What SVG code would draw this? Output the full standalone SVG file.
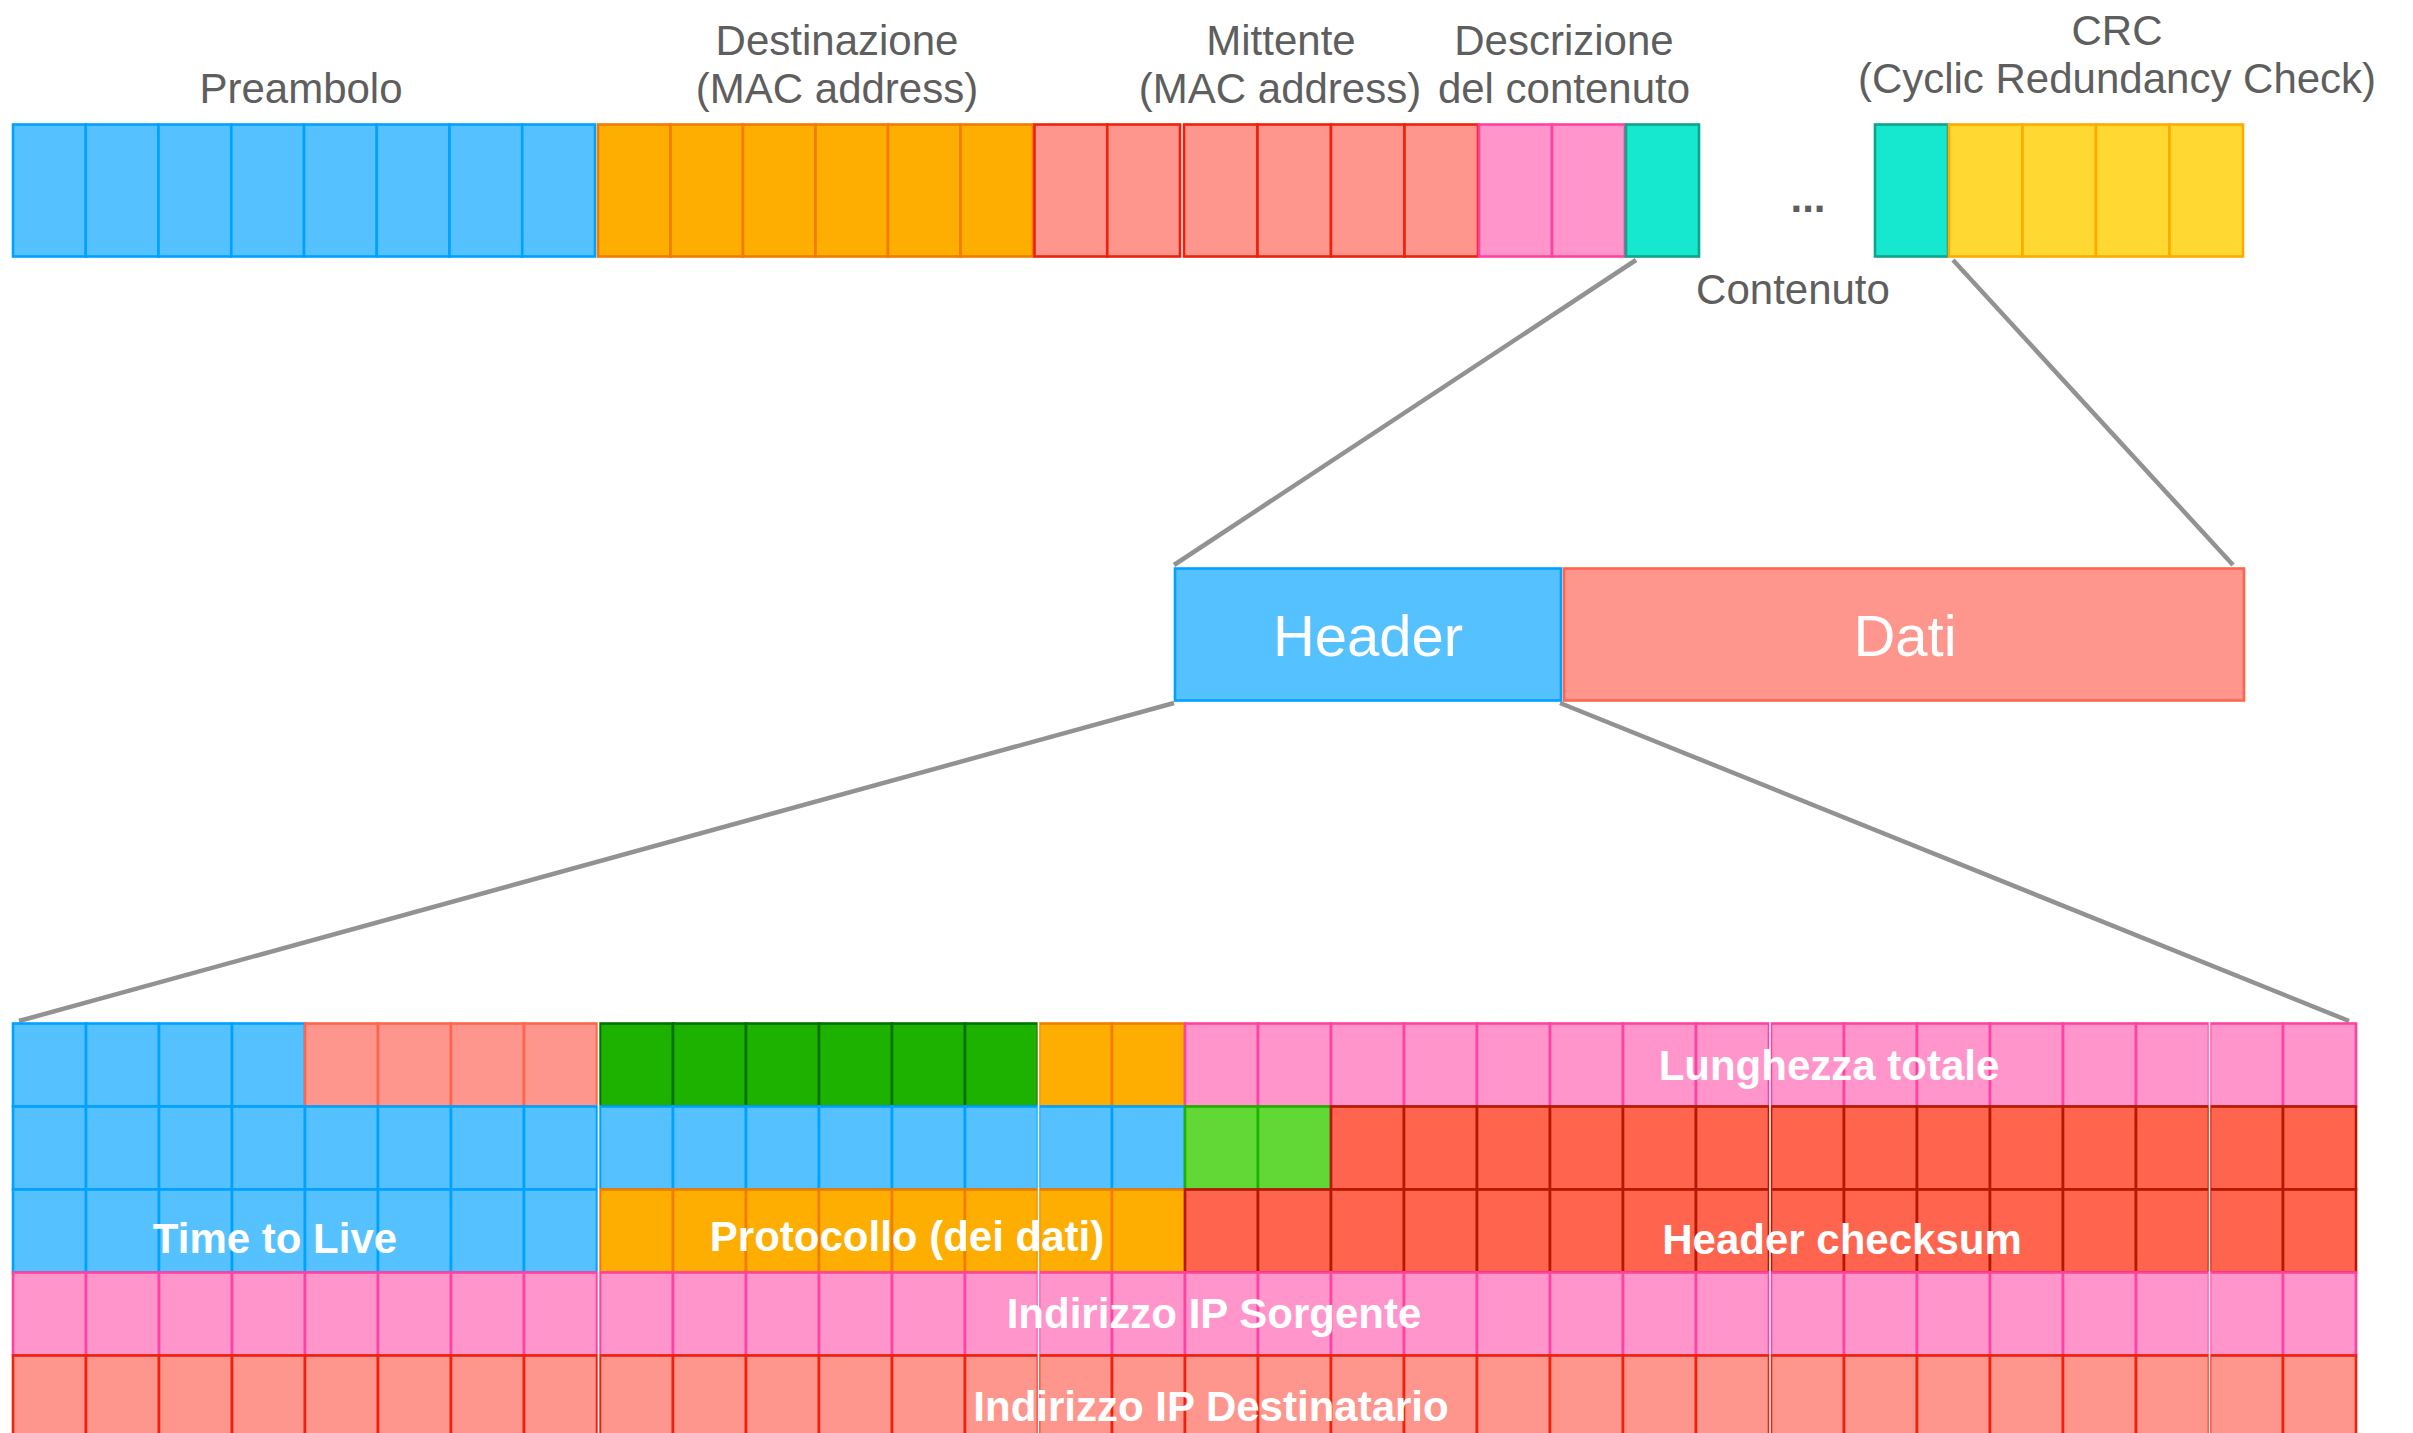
<svg xmlns="http://www.w3.org/2000/svg" width="2413" height="1433" viewBox="0 0 2413 1433">
<style>
rect{stroke-width:2.6}
.blue{fill:#56C1FF;stroke:#00A2FF}
.orange{fill:#FEAE00;stroke:#F27B00}
.salmon{fill:#FF968D;stroke:#EE220C}
.salmonL{fill:#FF968D;stroke:#FF644E}
.pink{fill:#FF95CA;stroke:#FF42A1}
.teal{fill:#16E7CF;stroke:#0FA38A}
.yellow{fill:#FFD932;stroke:#FFAA00}
.dgreen{fill:#1DB100;stroke:#017100}
.lgreen{fill:#61D836;stroke:#1DB100}
.red{fill:#FF644E;stroke:#B51700}
.lbl{font-family:"Liberation Sans",Arial,sans-serif;font-size:42px;fill:#5E5E5E;text-anchor:middle}
.big{font-family:"Liberation Sans",Arial,sans-serif;font-size:58px;fill:#fff;text-anchor:middle}
.fld{font-family:"Liberation Sans",Arial,sans-serif;font-size:42px;font-weight:bold;fill:#fff;text-anchor:middle}
.conn line{stroke:#929292;stroke-width:4.5}
.sep line{stroke:#fff;stroke-width:1.6}
</style>
<rect x="0" y="0" width="2413" height="1433" fill="#fff" style="stroke:none"/>

<!-- Top frame -->
<g id="preambolo">
<g class="blue">
<rect x="13" y="124.5" width="72.75" height="132"/><rect x="85.75" y="124.5" width="72.75" height="132"/><rect x="158.5" y="124.5" width="72.75" height="132"/><rect x="231.25" y="124.5" width="72.75" height="132"/><rect x="304" y="124.5" width="72.75" height="132"/><rect x="376.75" y="124.5" width="72.75" height="132"/><rect x="449.5" y="124.5" width="72.75" height="132"/><rect x="522.25" y="124.5" width="72.75" height="132"/>
</g>
<text class="lbl" x="301" y="103">Preambolo</text>
</g>
<g id="destinazione">
<g class="orange">
<rect x="598" y="124.5" width="72.5" height="132"/><rect x="670.5" y="124.5" width="72.5" height="132"/><rect x="743" y="124.5" width="72.5" height="132"/><rect x="815.5" y="124.5" width="72.5" height="132"/><rect x="888" y="124.5" width="72.5" height="132"/><rect x="960.5" y="124.5" width="72.5" height="132"/>
</g>
<text class="lbl" x="837" y="55">Destinazione</text>
<text class="lbl" x="837" y="103">(MAC address)</text>
</g>
<g id="mittente">
<g class="salmon">
<rect x="1034.5" y="124.5" width="72.75" height="132"/><rect x="1107.25" y="124.5" width="72.75" height="132"/>
<rect x="1184" y="124.5" width="73.5" height="132"/><rect x="1257.5" y="124.5" width="73.5" height="132"/><rect x="1331" y="124.5" width="73.5" height="132"/><rect x="1404.5" y="124.5" width="73.5" height="132"/>
</g>
<text class="lbl" x="1281" y="55">Mittente</text>
<text class="lbl" x="1280" y="103">(MAC address)</text>
</g>
<g id="descrizione">
<g class="pink">
<rect x="1479" y="124.5" width="73" height="132"/><rect x="1552" y="124.5" width="73" height="132"/>
</g>
<text class="lbl" x="1564" y="55">Descrizione</text>
<text class="lbl" x="1564" y="103">del contenuto</text>
</g>
<g id="contenuto">
<rect class="teal" x="1626" y="124.5" width="73" height="132"/>
<text class="lbl" x="1808" y="212" font-weight="bold" font-size="44">...</text>
<rect class="teal" x="1875" y="124.5" width="73" height="132"/>
<text class="lbl" x="1793" y="304">Contenuto</text>
</g>
<g id="crc">
<g class="yellow">
<rect x="1949" y="124.5" width="73.5" height="132"/><rect x="2022.5" y="124.5" width="73.5" height="132"/><rect x="2096" y="124.5" width="73.5" height="132"/><rect x="2169.5" y="124.5" width="73.5" height="132"/>
</g>
<text class="lbl" x="2117" y="45">CRC</text>
<text class="lbl" x="2117" y="93">(Cyclic Redundancy Check)</text>
</g>

<!-- Connectors -->
<g id="connectors" class="conn">
<line x1="1636" y1="260" x2="1174" y2="565"/>
<line x1="1953" y1="260" x2="2233" y2="565"/>
<line x1="1174" y1="703" x2="19" y2="1021"/>
<line x1="1560" y1="703" x2="2349" y2="1021"/>
</g>

<!-- Middle -->
<g id="header">
<rect class="blue" x="1175" y="568.5" width="386" height="132"/>
<text class="big" x="1368" y="656">Header</text>
</g>
<g id="dati">
<rect class="salmonL" x="1564" y="568.5" width="680" height="132"/>
<text class="big" x="1905" y="656">Dati</text>
</g>

<!-- Bottom grid: row 1 -->
<g id="versione" class="blue">
<rect x="13" y="1023.5" width="73" height="83"/><rect x="86" y="1023.5" width="73" height="83"/><rect x="159" y="1023.5" width="73" height="83"/><rect x="232" y="1023.5" width="73" height="83"/>
</g>
<g id="ihl" class="salmonL">
<rect x="305" y="1023.5" width="73" height="83"/><rect x="378" y="1023.5" width="73" height="83"/><rect x="451" y="1023.5" width="73" height="83"/><rect x="524" y="1023.5" width="73" height="83"/>
</g>
<g id="dscp" class="dgreen">
<rect x="600" y="1023.5" width="73" height="83"/><rect x="673" y="1023.5" width="73" height="83"/><rect x="746" y="1023.5" width="73" height="83"/><rect x="819" y="1023.5" width="73" height="83"/><rect x="892" y="1023.5" width="73" height="83"/><rect x="965" y="1023.5" width="73" height="83"/>
</g>
<g id="ecn" class="orange">
<rect x="1039" y="1023.5" width="73" height="83"/><rect x="1112" y="1023.5" width="73" height="83"/>
</g>
<g id="lunghezza-totale-cells" class="pink">
<rect x="1185" y="1023.5" width="73" height="83"/><rect x="1258" y="1023.5" width="73" height="83"/><rect x="1331" y="1023.5" width="73" height="83"/><rect x="1404" y="1023.5" width="73" height="83"/><rect x="1477" y="1023.5" width="73" height="83"/><rect x="1550" y="1023.5" width="73" height="83"/><rect x="1623" y="1023.5" width="73" height="83"/><rect x="1696" y="1023.5" width="73" height="83"/>
<rect x="1771" y="1023.5" width="73" height="83"/><rect x="1844" y="1023.5" width="73" height="83"/><rect x="1917" y="1023.5" width="73" height="83"/><rect x="1990" y="1023.5" width="73" height="83"/><rect x="2063" y="1023.5" width="73" height="83"/><rect x="2136" y="1023.5" width="73" height="83"/>
<rect x="2210" y="1023.5" width="73" height="83"/><rect x="2283" y="1023.5" width="73" height="83"/>
</g>

<!-- row 2 -->
<g id="identificazione" class="blue">
<rect x="13" y="1106.5" width="73" height="83"/><rect x="86" y="1106.5" width="73" height="83"/><rect x="159" y="1106.5" width="73" height="83"/><rect x="232" y="1106.5" width="73" height="83"/><rect x="305" y="1106.5" width="73" height="83"/><rect x="378" y="1106.5" width="73" height="83"/><rect x="451" y="1106.5" width="73" height="83"/><rect x="524" y="1106.5" width="73" height="83"/>
<rect x="600" y="1106.5" width="73" height="83"/><rect x="673" y="1106.5" width="73" height="83"/><rect x="746" y="1106.5" width="73" height="83"/><rect x="819" y="1106.5" width="73" height="83"/><rect x="892" y="1106.5" width="73" height="83"/><rect x="965" y="1106.5" width="73" height="83"/>
<rect x="1039" y="1106.5" width="73" height="83"/><rect x="1112" y="1106.5" width="73" height="83"/>
</g>
<g id="flag" class="lgreen">
<rect x="1185" y="1106.5" width="73" height="83"/><rect x="1258" y="1106.5" width="73" height="83"/>
</g>
<g id="offset" class="red">
<rect x="1331" y="1106.5" width="73" height="83"/><rect x="1404" y="1106.5" width="73" height="83"/><rect x="1477" y="1106.5" width="73" height="83"/><rect x="1550" y="1106.5" width="73" height="83"/><rect x="1623" y="1106.5" width="73" height="83"/><rect x="1696" y="1106.5" width="73" height="83"/>
<rect x="1771" y="1106.5" width="73" height="83"/><rect x="1844" y="1106.5" width="73" height="83"/><rect x="1917" y="1106.5" width="73" height="83"/><rect x="1990" y="1106.5" width="73" height="83"/><rect x="2063" y="1106.5" width="73" height="83"/><rect x="2136" y="1106.5" width="73" height="83"/>
<rect x="2210" y="1106.5" width="73" height="83"/><rect x="2283" y="1106.5" width="73" height="83"/>
</g>

<!-- row 3 -->
<g id="time-to-live-cells" class="blue">
<rect x="13" y="1189.5" width="73" height="83"/><rect x="86" y="1189.5" width="73" height="83"/><rect x="159" y="1189.5" width="73" height="83"/><rect x="232" y="1189.5" width="73" height="83"/><rect x="305" y="1189.5" width="73" height="83"/><rect x="378" y="1189.5" width="73" height="83"/><rect x="451" y="1189.5" width="73" height="83"/><rect x="524" y="1189.5" width="73" height="83"/>
</g>
<g id="protocollo-cells" class="orange">
<rect x="600" y="1189.5" width="73" height="83"/><rect x="673" y="1189.5" width="73" height="83"/><rect x="746" y="1189.5" width="73" height="83"/><rect x="819" y="1189.5" width="73" height="83"/><rect x="892" y="1189.5" width="73" height="83"/><rect x="965" y="1189.5" width="73" height="83"/>
<rect x="1039" y="1189.5" width="73" height="83"/><rect x="1112" y="1189.5" width="73" height="83"/>
</g>
<g id="header-checksum-cells" class="red">
<rect x="1185" y="1189.5" width="73" height="83"/><rect x="1258" y="1189.5" width="73" height="83"/><rect x="1331" y="1189.5" width="73" height="83"/><rect x="1404" y="1189.5" width="73" height="83"/><rect x="1477" y="1189.5" width="73" height="83"/><rect x="1550" y="1189.5" width="73" height="83"/><rect x="1623" y="1189.5" width="73" height="83"/><rect x="1696" y="1189.5" width="73" height="83"/>
<rect x="1771" y="1189.5" width="73" height="83"/><rect x="1844" y="1189.5" width="73" height="83"/><rect x="1917" y="1189.5" width="73" height="83"/><rect x="1990" y="1189.5" width="73" height="83"/><rect x="2063" y="1189.5" width="73" height="83"/><rect x="2136" y="1189.5" width="73" height="83"/>
<rect x="2210" y="1189.5" width="73" height="83"/><rect x="2283" y="1189.5" width="73" height="83"/>
</g>

<!-- row 4 -->
<g id="ip-sorgente-cells" class="pink">
<rect x="13" y="1272.5" width="73" height="83"/><rect x="86" y="1272.5" width="73" height="83"/><rect x="159" y="1272.5" width="73" height="83"/><rect x="232" y="1272.5" width="73" height="83"/><rect x="305" y="1272.5" width="73" height="83"/><rect x="378" y="1272.5" width="73" height="83"/><rect x="451" y="1272.5" width="73" height="83"/><rect x="524" y="1272.5" width="73" height="83"/>
<rect x="600" y="1272.5" width="73" height="83"/><rect x="673" y="1272.5" width="73" height="83"/><rect x="746" y="1272.5" width="73" height="83"/><rect x="819" y="1272.5" width="73" height="83"/><rect x="892" y="1272.5" width="73" height="83"/><rect x="965" y="1272.5" width="73" height="83"/>
<rect x="1039" y="1272.5" width="73" height="83"/><rect x="1112" y="1272.5" width="73" height="83"/><rect x="1185" y="1272.5" width="73" height="83"/><rect x="1258" y="1272.5" width="73" height="83"/><rect x="1331" y="1272.5" width="73" height="83"/><rect x="1404" y="1272.5" width="73" height="83"/><rect x="1477" y="1272.5" width="73" height="83"/><rect x="1550" y="1272.5" width="73" height="83"/><rect x="1623" y="1272.5" width="73" height="83"/><rect x="1696" y="1272.5" width="73" height="83"/>
<rect x="1771" y="1272.5" width="73" height="83"/><rect x="1844" y="1272.5" width="73" height="83"/><rect x="1917" y="1272.5" width="73" height="83"/><rect x="1990" y="1272.5" width="73" height="83"/><rect x="2063" y="1272.5" width="73" height="83"/><rect x="2136" y="1272.5" width="73" height="83"/>
<rect x="2210" y="1272.5" width="73" height="83"/><rect x="2283" y="1272.5" width="73" height="83"/>
</g>

<!-- row 5 -->
<g id="ip-destinatario-cells" class="salmon">
<rect x="13" y="1355.5" width="73" height="83"/><rect x="86" y="1355.5" width="73" height="83"/><rect x="159" y="1355.5" width="73" height="83"/><rect x="232" y="1355.5" width="73" height="83"/><rect x="305" y="1355.5" width="73" height="83"/><rect x="378" y="1355.5" width="73" height="83"/><rect x="451" y="1355.5" width="73" height="83"/><rect x="524" y="1355.5" width="73" height="83"/>
<rect x="600" y="1355.5" width="73" height="83"/><rect x="673" y="1355.5" width="73" height="83"/><rect x="746" y="1355.5" width="73" height="83"/><rect x="819" y="1355.5" width="73" height="83"/><rect x="892" y="1355.5" width="73" height="83"/><rect x="965" y="1355.5" width="73" height="83"/>
<rect x="1039" y="1355.5" width="73" height="83"/><rect x="1112" y="1355.5" width="73" height="83"/><rect x="1185" y="1355.5" width="73" height="83"/><rect x="1258" y="1355.5" width="73" height="83"/><rect x="1331" y="1355.5" width="73" height="83"/><rect x="1404" y="1355.5" width="73" height="83"/><rect x="1477" y="1355.5" width="73" height="83"/><rect x="1550" y="1355.5" width="73" height="83"/><rect x="1623" y="1355.5" width="73" height="83"/><rect x="1696" y="1355.5" width="73" height="83"/>
<rect x="1771" y="1355.5" width="73" height="83"/><rect x="1844" y="1355.5" width="73" height="83"/><rect x="1917" y="1355.5" width="73" height="83"/><rect x="1990" y="1355.5" width="73" height="83"/><rect x="2063" y="1355.5" width="73" height="83"/><rect x="2136" y="1355.5" width="73" height="83"/>
<rect x="2210" y="1355.5" width="73" height="83"/><rect x="2283" y="1355.5" width="73" height="83"/>
</g>

<!-- thin white separators between 8-bit groups -->
<g class="sep">
<line x1="598.5" y1="1021" x2="598.5" y2="1433"/>
<line x1="1038.5" y1="1021" x2="1038.5" y2="1433"/>
<line x1="1770" y1="1021" x2="1770" y2="1433"/>
<line x1="2209.5" y1="1021" x2="2209.5" y2="1433"/>
</g>

<!-- field labels -->
<g id="lunghezza-totale"><text class="fld" x="1829" y="1080">Lunghezza totale</text></g>
<g id="time-to-live"><text class="fld" x="275" y="1253">Time to Live</text></g>
<g id="protocollo"><text class="fld" x="907" y="1251">Protocollo (dei dati)</text></g>
<g id="header-checksum"><text class="fld" x="1842" y="1254">Header checksum</text></g>
<g id="ip-sorgente"><text class="fld" x="1214" y="1328">Indirizzo IP Sorgente</text></g>
<g id="ip-destinatario"><text class="fld" x="1211" y="1421">Indirizzo IP Destinatario</text></g>
</svg>
